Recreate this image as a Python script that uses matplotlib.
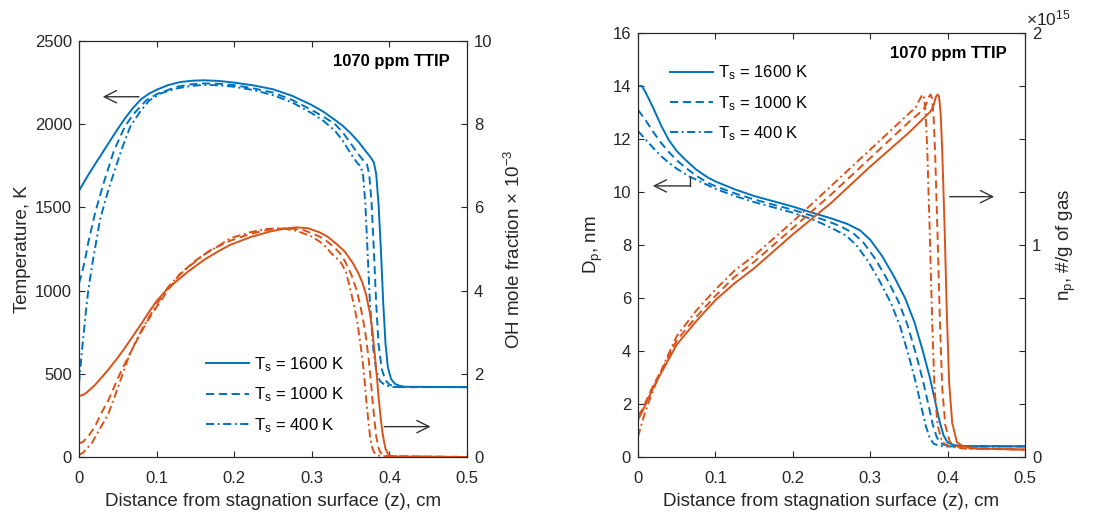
import numpy as np
import matplotlib
matplotlib.use('Agg')
import matplotlib.pyplot as plt

plt.rcParams['font.family'] = ['Liberation Sans', 'DejaVu Sans']
plt.rcParams['mathtext.fontset'] = 'custom'
plt.rcParams['mathtext.rm'] = 'Liberation Sans'
plt.rcParams['mathtext.it'] = 'Liberation Sans:italic'
plt.rcParams['mathtext.bf'] = 'Liberation Sans:bold'

BLUE = '#0072BD'
ORANGE = '#D95319'
AXC = '#262626'

# ---- left panel: temperature (K) for Ts = 1600, 1000, 400 K
z_T1 = [0, 0.01, 0.02, 0.027, 0.04, 0.049, 0.06, 0.07, 0.08, 0.09, 0.1, 0.115, 0.13, 0.145, 0.16, 0.18, 0.2, 0.225, 0.25, 0.275,
        0.3, 0.315, 0.33, 0.34, 0.35, 0.36, 0.37, 0.376, 0.38, 0.383, 0.386, 0.389, 0.392, 0.395, 0.398, 0.402, 0.407, 0.413, 0.42, 0.5]
T1 = [1600, 1680, 1755, 1805, 1900, 1965, 2040, 2100, 2150, 2183, 2207, 2235, 2253, 2261, 2264, 2260, 2250, 2233, 2210, 2170,
      2115, 2075, 2025, 1990, 1946, 1895, 1835, 1800, 1770, 1700, 1520, 1250, 930, 680, 540, 470, 440, 428, 422, 420]
z_T2 = [0, 0.004, 0.0077, 0.012, 0.0206, 0.027, 0.033, 0.045, 0.059, 0.07, 0.087, 0.1, 0.126, 0.145, 0.16, 0.18, 0.2, 0.225, 0.25,
        0.275, 0.3, 0.315, 0.33, 0.34, 0.35, 0.36, 0.366, 0.371, 0.374, 0.377, 0.38, 0.383, 0.386, 0.39, 0.395, 0.4, 0.407, 0.415, 0.5]
T2 = [1044, 1110, 1184, 1290, 1464, 1570, 1665, 1840, 1985, 2060, 2145, 2180, 2225, 2240, 2245, 2243, 2235, 2215, 2190,
      2145, 2085, 2045, 2000, 1950, 1885, 1820, 1785, 1760, 1700, 1530, 1240, 920, 680, 530, 460, 435, 424, 420, 420]
z_T3 = [0, 0.003, 0.0056, 0.009, 0.012, 0.018, 0.027, 0.035, 0.042, 0.055, 0.066, 0.078, 0.09, 0.105, 0.126, 0.145, 0.16, 0.18,
        0.2, 0.225, 0.25, 0.275, 0.3, 0.315, 0.33, 0.34, 0.35, 0.358, 0.363, 0.366, 0.369, 0.372, 0.375, 0.379, 0.383, 0.388, 0.395, 0.405, 0.5]
T3 = [440, 600, 723, 880, 1004, 1184, 1424, 1560, 1665, 1850, 1985, 2070, 2140, 2185, 2215, 2230, 2236, 2234,
      2225, 2205, 2175, 2130, 2066, 2020, 1960, 1900, 1825, 1770, 1745, 1700, 1520, 1220, 920, 660, 520, 455, 430, 421, 420]

# OH mole fraction (x 1e-3)
z_O1 = [0, 0.005, 0.01, 0.02, 0.03, 0.0378, 0.05, 0.059, 0.07, 0.081, 0.09, 0.1, 0.112, 0.124, 0.14, 0.162, 0.18, 0.195, 0.22, 0.246,
        0.265, 0.28, 0.295, 0.31, 0.32, 0.33, 0.342, 0.353, 0.36, 0.365, 0.37, 0.375, 0.378, 0.381, 0.384, 0.386, 0.389, 0.391,
        0.393, 0.395, 0.398, 0.402, 0.41, 0.5]
O1 = [1.47, 1.49, 1.55, 1.72, 1.93, 2.1, 2.39, 2.62, 2.92, 3.22, 3.48, 3.75, 4.0, 4.2, 4.45, 4.75, 4.95, 5.1, 5.28, 5.42,
      5.49, 5.52, 5.5, 5.4, 5.3, 5.15, 4.95, 4.66, 4.42, 4.2, 3.9, 3.45, 3.05, 2.5, 1.9, 1.45, 0.9, 0.6,
      0.38, 0.2, 0.08, 0.03, 0.01, 0.0]
z_O2 = [0, 0.005, 0.012, 0.0206, 0.028, 0.038, 0.051, 0.06, 0.068, 0.078, 0.089, 0.098, 0.106, 0.118, 0.13, 0.15, 0.17, 0.195,
        0.22, 0.246, 0.27, 0.29, 0.31, 0.32, 0.33, 0.338, 0.344, 0.351, 0.358, 0.363, 0.367, 0.37, 0.373, 0.376, 0.378, 0.381,
        0.383, 0.386, 0.388, 0.392, 0.397, 0.5]
O2 = [0.33, 0.36, 0.5, 0.73, 1.03, 1.37, 1.93, 2.28, 2.57, 2.93, 3.29, 3.55, 3.77, 4.1, 4.4, 4.72, 4.98, 5.2,
      5.36, 5.47, 5.5, 5.45, 5.3, 5.18, 5.02, 4.86, 4.66, 4.38, 4.0, 3.6, 3.2, 2.85, 2.4, 1.85, 1.4, 0.85,
      0.5, 0.22, 0.12, 0.05, 0.02, 0.0]
z_O3 = [0, 0.005, 0.0164, 0.027, 0.038, 0.046, 0.055, 0.063, 0.072, 0.082, 0.093, 0.104, 0.115, 0.128, 0.14, 0.16, 0.18, 0.195,
        0.22, 0.24, 0.26, 0.28, 0.3, 0.31, 0.318, 0.325, 0.332, 0.338, 0.344, 0.35, 0.355, 0.359, 0.362, 0.365, 0.368, 0.37,
        0.373, 0.375, 0.378, 0.38, 0.384, 0.389, 0.5]
O3 = [0.05, 0.1, 0.33, 0.68, 1.05, 1.45, 1.93, 2.35, 2.73, 3.1, 3.45, 3.78, 4.09, 4.35, 4.55, 4.85, 5.08, 5.26,
      5.4, 5.48, 5.5, 5.44, 5.3, 5.18, 5.05, 4.9, 4.78, 4.66, 4.45, 4.0, 3.6, 3.2, 2.8, 2.4, 1.85, 1.4,
      0.85, 0.5, 0.22, 0.12, 0.05, 0.02, 0.0]

# ---- right panel: particle diameter (nm)
z_D1 = [0, 0.005, 0.01, 0.015, 0.02, 0.03, 0.04, 0.05, 0.06, 0.075, 0.09, 0.1, 0.125, 0.15, 0.175, 0.2, 0.225, 0.25, 0.27,
        0.287, 0.3, 0.315, 0.33, 0.345, 0.357, 0.368, 0.377, 0.384, 0.39, 0.395, 0.4, 0.408, 0.42, 0.5]
D1 = [14.0, 14.0, 13.75, 13.45, 13.15, 12.5, 11.95, 11.55, 11.25, 10.85, 10.55, 10.4, 10.1, 9.85, 9.65, 9.45, 9.22, 9.0, 8.8,
      8.55, 8.2, 7.6, 6.85, 6.0, 5.1, 4.0, 3.0, 2.1, 1.3, 0.8, 0.55, 0.45, 0.41, 0.4]
z_D2 = [0, 0.01, 0.02, 0.03, 0.04, 0.05, 0.06, 0.075, 0.09, 0.1, 0.125, 0.15, 0.175, 0.2, 0.225, 0.245, 0.262, 0.278, 0.291,
        0.306, 0.321, 0.336, 0.348, 0.359, 0.368, 0.375, 0.381, 0.386, 0.391, 0.399, 0.41, 0.5]
D2 = [13.1, 12.7, 12.25, 11.85, 11.5, 11.2, 10.95, 10.62, 10.35, 10.22, 9.95, 9.72, 9.52, 9.33, 9.1, 8.9, 8.7, 8.45, 8.1,
      7.5, 6.75, 5.9, 5.0, 3.9, 2.9, 2.0, 1.2, 0.75, 0.52, 0.43, 0.41, 0.4]
z_D3 = [0, 0.01, 0.02, 0.03, 0.04, 0.05, 0.0667, 0.08, 0.1, 0.125, 0.15, 0.175, 0.2, 0.22, 0.237, 0.253, 0.269, 0.282, 0.297,
        0.312, 0.327, 0.339, 0.35, 0.359, 0.366, 0.372, 0.377, 0.382, 0.39, 0.4, 0.5]
D3 = [12.3, 11.98, 11.65, 11.35, 11.1, 10.88, 10.58, 10.4, 10.12, 9.85, 9.62, 9.42, 9.22, 9.02, 8.82, 8.6, 8.35, 8.0, 7.4,
      6.65, 5.8, 4.9, 3.8, 2.8, 1.9, 1.15, 0.72, 0.5, 0.42, 0.4, 0.4]

# particle number density (x 1e15 #/g of gas)
z_N1 = [0, 0.005, 0.01, 0.02, 0.035, 0.05, 0.075, 0.1, 0.125, 0.15, 0.2, 0.25, 0.3, 0.35, 0.378, 0.382, 0.385, 0.387, 0.389,
        0.391, 0.393, 0.396, 0.399, 0.402, 0.406, 0.412, 0.42, 0.44, 0.5]
N1 = [0.175, 0.21, 0.25, 0.33, 0.43, 0.53, 0.64, 0.74, 0.82, 0.89, 1.05, 1.2, 1.37, 1.53, 1.63, 1.66, 1.70, 1.71, 1.7,
      1.62, 1.45, 1.1, 0.68, 0.35, 0.16, 0.07, 0.05, 0.04, 0.035]
z_N2 = [0, 0.005, 0.01, 0.02, 0.035, 0.05, 0.075, 0.1, 0.125, 0.15, 0.2, 0.25, 0.3, 0.35, 0.369, 0.373, 0.376, 0.378, 0.38,
        0.382, 0.384, 0.387, 0.39, 0.393, 0.397, 0.403, 0.412, 0.43, 0.5]
N2 = [0.195, 0.22, 0.26, 0.34, 0.44, 0.55, 0.66, 0.76, 0.85, 0.92, 1.08, 1.24, 1.41, 1.58, 1.64, 1.67, 1.70, 1.71, 1.69,
      1.6, 1.42, 1.05, 0.65, 0.33, 0.15, 0.07, 0.05, 0.04, 0.035]
z_N3 = [0, 0.005, 0.01, 0.02, 0.035, 0.05, 0.075, 0.1, 0.125, 0.15, 0.2, 0.25, 0.3, 0.35, 0.359, 0.363, 0.366, 0.368, 0.37,
        0.372, 0.374, 0.377, 0.38, 0.383, 0.387, 0.393, 0.402, 0.42, 0.5]
N3 = [0.095, 0.16, 0.22, 0.32, 0.45, 0.57, 0.69, 0.79, 0.88, 0.95, 1.11, 1.28, 1.45, 1.62, 1.65, 1.68, 1.70, 1.71, 1.69,
      1.6, 1.42, 1.05, 0.65, 0.33, 0.15, 0.07, 0.05, 0.04, 0.035]

legend_labels = [r'T$_{\rm s}$ = 1600 K', r'T$_{\rm s}$ = 1000 K', r'T$_{\rm s}$ = 400 K']
styles = ['-', (0, (4.2, 2.4)), (0, (4.2, 1.8, 1.0, 1.8))]
LW = 1.4


def style_axes(ax, twin):
    '''matlab-like box with inward ticks'''
    for sp in list(ax.spines.values()) + list(twin.spines.values()):
        sp.set_color(AXC)
        sp.set_linewidth(0.8)
    ax.tick_params(axis='both', direction='in', length=4, width=0.8, colors=AXC, labelsize=12, pad=5, top=True)
    ax.tick_params(axis='x', pad=10)
    twin.tick_params(axis='y', direction='in', length=4, width=0.8, colors=AXC, labelsize=12, pad=5)
    ax.set_xlim(0, 0.5)
    ax.set_xticks(np.arange(0, 0.51, 0.1))
    ax.set_xticklabels(['0', '0.1', '0.2', '0.3', '0.4', '0.5'])
    ax.set_xlabel('Distance from stagnation surface (z), cm', fontsize=13.5, color=AXC, labelpad=5)


fig = plt.figure(figsize=(10.99, 5.17), dpi=100)

# left panel
ax1 = fig.add_axes([79 / 1099, 60 / 517, 388 / 1099, 416 / 517])
ax1r = ax1.twinx()
lines = []
for z, t, ls, lab in zip([z_T1, z_T2, z_T3], [T1, T2, T3], styles, legend_labels):
    l, = ax1.plot(z, t, color=BLUE, lw=LW, linestyle=ls, label=lab)
    lines.append(l)
for z, o, ls in zip([z_O1, z_O2, z_O3], [O1, O2, O3], styles):
    ax1r.plot(z, o, color=ORANGE, lw=LW, linestyle=ls)
ax1.set_ylim(0, 2500)
ax1.set_yticks(np.arange(0, 2501, 500))
ax1r.set_ylim(0, 10)
ax1r.set_yticks(np.arange(0, 11, 2))
style_axes(ax1, ax1r)
ax1.set_ylabel('Temperature, K', fontsize=13.5, color=AXC, labelpad=3)
ax1r.set_ylabel(r'OH mole fraction $\times$ 10$^{-3}$', fontsize=13.5, color=AXC, labelpad=8)
ax1.text(0.478, 2374, '1070 ppm TTIP', fontsize=12, fontweight='bold', ha='right', va='center', color='black')
ax1.annotate('', xy=(0.027, 2165), xytext=(0.0808, 2165),
             arrowprops=dict(arrowstyle='->', color='0.2', lw=1.0, mutation_scale=22))
ax1r.annotate('', xy=(0.4567, 0.73), xytext=(0.39, 0.73),
              arrowprops=dict(arrowstyle='->', color='0.2', lw=1.0, mutation_scale=22))
ax1.legend(handles=lines, loc='upper left', bbox_to_anchor=(0.327, 0.245), frameon=False, fontsize=12,
           handlelength=2.6, handletextpad=0.3, labelspacing=0.7, borderpad=0, borderaxespad=0)

# right panel
ax2 = fig.add_axes([638 / 1099, 60 / 517, 387 / 1099, 424 / 517])
ax2r = ax2.twinx()
lines2 = []
for z, d, ls, lab in zip([z_D1, z_D2, z_D3], [D1, D2, D3], styles, legend_labels):
    l, = ax2.plot(z, d, color=BLUE, lw=LW, linestyle=ls, label=lab)
    lines2.append(l)
for z, n, ls in zip([z_N1, z_N2, z_N3], [N1, N2, N3], styles):
    ax2r.plot(z, n, color=ORANGE, lw=LW, linestyle=ls)
ax2.set_ylim(0, 16)
ax2.set_yticks(np.arange(0, 17, 2))
ax2r.set_ylim(0, 2)
ax2r.set_yticks(np.arange(0, 2.01, 0.25))
ax2r.set_yticklabels(['0', '', '', '', '1', '', '', '', '2'])
style_axes(ax2, ax2r)
ax2.set_ylabel(r'D$_{\rm p}$, nm', fontsize=13.5, color=AXC, labelpad=5)
ax2r.set_ylabel(r'n$_{\rm p}$, #/g of gas', fontsize=13.5, color=AXC, labelpad=10)
ax2.text(0.477, 15.23, '1070 ppm TTIP', fontsize=12, fontweight='bold', ha='right', va='center', color='black')
ax2r.text(1.003, 1.012, r'$\times$10$^{15}$', transform=ax2r.transAxes, fontsize=12.5, color=AXC, ha='left', va='bottom')
ax2.plot([0.0667, 0.0667], [10.58, 10.23], color='0.2', lw=1.0)
ax2.annotate('', xy=(0.0155, 10.23), xytext=(0.0667, 10.23),
             arrowprops=dict(arrowstyle='->', color='0.2', lw=1.0, mutation_scale=22, shrinkA=0))
ax2r.annotate('', xy=(0.4638, 1.228), xytext=(0.399, 1.228),
              arrowprops=dict(arrowstyle='->', color='0.2', lw=1.0, mutation_scale=22))
ax2.legend(handles=lines2, loc='upper left', bbox_to_anchor=(0.083, 0.928), frameon=False, fontsize=12,
           handlelength=2.6, handletextpad=0.3, labelspacing=0.7, borderpad=0, borderaxespad=0)

fig.savefig('out.png', dpi=100)
